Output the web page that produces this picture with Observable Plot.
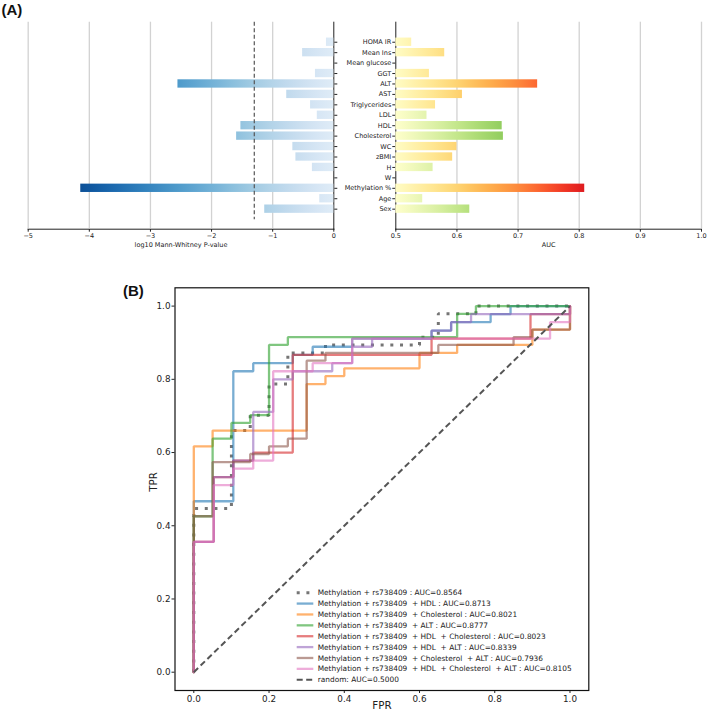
<!DOCTYPE html>
<html><head><meta charset="utf-8">
<script src="https://cdn.jsdelivr.net/npm/d3@7"></script>
<script src="https://cdn.jsdelivr.net/npm/@observablehq/plot@0.6"></script>
<style>
html,body{margin:0;padding:0;background:#fff;}
#root{position:relative;width:709px;height:715px;overflow:hidden;background:#fff;}
#root>svg{position:absolute;}
</style></head>
<body><div id="root"></div>
<script>
// ---------------- Panel A data ----------------
const features = ["HOMA IR","Mean Ins","Mean glucose","GGT","ALT","AST","Triglycerides","LDL","HDL","Cholesterol","WC","zBMI","H","W","Methylation %","Age","Sex"];
const log10P = [-0.12,-0.51,0,-0.30,-2.55,-0.77,-0.38,-0.27,-1.52,-1.59,-0.67,-0.62,-0.35,0,-4.14,-0.23,-1.13];
const aucA = [0.526,0.580,0.5,0.555,0.732,0.609,0.565,0.551,0.674,0.676,0.600,0.593,0.561,0.5,0.809,0.544,0.621];
const aucDirection = ["up","up","up","up","up","up","up","down","down","down","up","up","down","up","up","down","down"];
const pThreshold = Math.log10(0.05);
const leftTicks = [-5,-4,-3,-2,-1,0];
const rightTicks = [0.5,0.6,0.7,0.8,0.9,1.0];

// ---------------- Panel B data ----------------
const rocTicks = [0,0.2,0.4,0.6,0.8,1.0];
const rocModels = [
  "Methylation + rs738409",
  "Methylation + rs738409  + HDL",
  "Methylation + rs738409  + Cholesterol",
  "Methylation + rs738409  + ALT",
  "Methylation + rs738409  + HDL  + Cholesterol",
  "Methylation + rs738409  + HDL  + ALT",
  "Methylation + rs738409  + Cholesterol  + ALT",
  "Methylation + rs738409  + HDL  + Cholesterol  + ALT"
];
const rocAuc = [0.8564,0.8713,0.8021,0.8777,0.8023,0.8339,0.7936,0.8105];
const randomAuc = 0.5;
const rocMeth = [[0,0],[0,0.447],[0.1,0.447],[0.1,0.66],[0.15,0.66],[0.15,0.702],[0.2,0.702],[0.2,0.787],[0.25,0.787],[0.25,0.872],[0.35,0.872],[0.35,0.894],[0.6,0.894],[0.6,0.915],[0.65,0.915],[0.65,0.979],[0.75,0.979],[0.75,1],[1,1]];
const rocHDL = [[0,0],[0,0.467],[0.105,0.467],[0.105,0.822],[0.158,0.822],[0.158,0.844],[0.263,0.844],[0.263,0.867],[0.316,0.867],[0.316,0.889],[0.421,0.889],[0.421,0.911],[0.632,0.911],[0.632,0.933],[0.684,0.933],[0.684,0.956],[0.789,0.956],[0.789,0.978],[0.842,0.978],[0.842,1],[1,1]];
const rocChol = [[0,0],[0,0.617],[0.05,0.617],[0.05,0.66],[0.3,0.66],[0.3,0.787],[0.35,0.787],[0.35,0.809],[0.4,0.809],[0.4,0.83],[0.6,0.83],[0.6,0.872],[0.7,0.872],[0.7,0.894],[0.9,0.894],[0.9,0.936],[1,0.936],[1,1]];
const rocALT = [[0,0],[0,0.426],[0.05,0.426],[0.05,0.638],[0.1,0.638],[0.1,0.681],[0.15,0.681],[0.15,0.702],[0.2,0.702],[0.2,0.894],[0.25,0.894],[0.25,0.915],[0.7,0.915],[0.7,0.979],[0.75,0.979],[0.75,1],[1,1]];
const rocHDLChol = [[0,0],[0,0.356],[0.053,0.356],[0.053,0.533],[0.105,0.533],[0.105,0.578],[0.158,0.578],[0.158,0.6],[0.263,0.6],[0.263,0.867],[0.632,0.867],[0.632,0.911],[0.895,0.911],[0.895,0.978],[1,0.978],[1,1]];
const rocHDLALT = [[0,0],[0,0.356],[0.053,0.356],[0.053,0.533],[0.105,0.533],[0.105,0.578],[0.158,0.578],[0.158,0.711],[0.211,0.711],[0.211,0.8],[0.263,0.8],[0.263,0.822],[0.368,0.822],[0.368,0.844],[0.421,0.844],[0.421,0.889],[0.474,0.889],[0.474,0.911],[0.632,0.911],[0.632,0.933],[0.684,0.933],[0.684,0.956],[0.737,0.956],[0.737,0.978],[1,0.978],[1,1]];
const rocCholALT = [[0,0],[0,0.426],[0.05,0.426],[0.05,0.574],[0.15,0.574],[0.15,0.596],[0.2,0.596],[0.2,0.617],[0.25,0.617],[0.25,0.638],[0.3,0.638],[0.3,0.851],[0.35,0.851],[0.35,0.872],[0.65,0.872],[0.65,0.894],[0.85,0.894],[0.85,0.915],[0.9,0.915],[0.9,0.936],[1,0.936],[1,1]];
const rocAll = [[0,0],[0,0.356],[0.053,0.356],[0.053,0.511],[0.105,0.511],[0.105,0.556],[0.158,0.556],[0.158,0.578],[0.211,0.578],[0.211,0.822],[0.316,0.822],[0.316,0.844],[0.421,0.844],[0.421,0.911],[0.947,0.911],[0.947,0.956],[1,0.956],[1,1]];
const rocRandom = [[0,0],[1,1]];
const rocColors = ["#1f77b4","#ff7f0e","#2ca02c","#d62728","#9467bd","#8c564b","#e377c2"];

// ---------------- helpers ----------------
const FONT = "'DejaVu Sans', sans-serif";
const NS = "http://www.w3.org/2000/svg";
const root = document.getElementById("root");
function addGradient(svg, id, x1, x2, interp, t0, t1) {
  let defs = svg.querySelector("defs");
  if (!defs) { defs = document.createElementNS(NS, "defs"); svg.insertBefore(defs, svg.firstChild); }
  const g = document.createElementNS(NS, "linearGradient");
  g.setAttribute("id", id); g.setAttribute("gradientUnits", "userSpaceOnUse");
  g.setAttribute("x1", x1); g.setAttribute("x2", x2); g.setAttribute("y1", 0); g.setAttribute("y2", 0);
  for (let i = 0; i <= 20; i++) {
    const s = document.createElementNS(NS, "stop");
    s.setAttribute("offset", i / 20);
    s.setAttribute("stop-color", interp(t0 + (t1 - t0) * i / 20));
    g.appendChild(s);
  }
  defs.appendChild(g);
}
function place(el, left, top) { el.style.left = left + "px"; el.style.top = top + "px"; root.appendChild(el); }

// ---------------- Panel A ----------------
const rowsA = features.map((f, i) => ({feature: f, logp: log10P[i], auc: aucA[i], dir: aucDirection[i]}));
const yBand = {domain: features, paddingInner: 0.2, paddingOuter: 1.52, align: 0.5, round: false, label: null};
const styleA = {fontFamily: FONT, fontSize: "6.5px", color: "#222", background: "transparent", overflow: "visible"};

const plotL = Plot.plot({
  width: 340, height: 255, marginLeft: 27.7, marginRight: 6.7, marginTop: 21.7, marginBottom: 26.3,
  style: styleA,
  x: {domain: [-5, 0], ticks: leftTicks, tickFormat: d3.format("d"), tickSize: 3, tickPadding: 1.5, line: true, label: null},
  y: {...yBand, axis: "right", tickSize: 3, tickFormat: () => "", line: true},
  marks: [
    Plot.ruleX(leftTicks.filter(t => t !== 0), {stroke: "#d2d2d2", strokeWidth: 1.3}),
    Plot.barX(rowsA, {y: "feature", x1: () => 0, x2: "logp", fill: "url(#gradBlues)"}),
    Plot.ruleX([pThreshold], {stroke: "#555", strokeWidth: 1.2, strokeDasharray: "4,2.5", insetBottom: 9.4}),
    Plot.text(["log10 Mann-Whitney P-value"], {text: d => d, frameAnchor: "bottom", dy: 17.5, fontSize: 6.5, fill: "#222"})
  ]
});
place(plotL, 0, 0);
{
  const sx = plotL.scale("x");
  addGradient(plotL, "gradBlues", sx.apply(0), sx.apply(d3.min(log10P)), d3.interpolateBlues, 0.12, 0.88);
}

const plotR = Plot.plot({
  width: 374, height: 255, marginLeft: 60.3, marginRight: 8, marginTop: 21.7, marginBottom: 26.3,
  style: styleA,
  x: {domain: [0.5, 1.0], ticks: rightTicks, tickFormat: d3.format(".1f"), tickSize: 3, tickPadding: 1.5, line: true, label: null},
  y: {...yBand, tickSize: 3, tickPadding: 1.5, line: true},
  marks: [
    Plot.ruleX(rightTicks.filter(t => t !== 0.5), {stroke: "#d2d2d2", strokeWidth: 1.3}),
    Plot.barX(rowsA.filter(d => d.dir === "up"), {y: "feature", x1: () => 0.5, x2: "auc", fill: "url(#gradOrange)"}),
    Plot.barX(rowsA.filter(d => d.dir === "down"), {y: "feature", x1: () => 0.5, x2: "auc", fill: "url(#gradGreen)"}),
    Plot.text(["AUC"], {text: d => d, frameAnchor: "bottom", dy: 17.5, fontSize: 6.5, fill: "#222"})
  ]
});
place(plotR, 335, 0);
{
  const sx = plotR.scale("x");
  addGradient(plotR, "gradOrange", sx.apply(0.5), sx.apply(d3.max(aucA)), d3.interpolateYlOrRd, 0.02, 0.76);
  const greenInterp = d3.interpolateRgbBasis(["#ffffcc", "#d9f0a3", "#a6d96a", "#78c050"]);
  const gmax = d3.max(rowsA.filter(d => d.dir === "down"), d => d.auc);
  addGradient(plotR, "gradGreen", sx.apply(0.5), sx.apply(gmax), greenInterp, 0, 0.82);
}

// ---------------- Panel B ----------------
const xy = {x: d => d[0], y: d => d[1]};
const rocCurves = [rocHDL, rocChol, rocALT, rocHDLChol, rocHDLALT, rocCholALT, rocAll];
const plotB = Plot.plot({
  width: 709, height: 455, marginLeft: 174.5, marginRight: 120.7, marginTop: 27.3, marginBottom: 25,
  style: {fontFamily: FONT, fontSize: "8.8px", color: "#222", background: "transparent", overflow: "visible"},
  x: {domain: [-0.05, 1.05], ticks: rocTicks, tickFormat: d3.format(".1f"), tickSize: 3, tickPadding: 1.75, label: null},
  y: {domain: [-0.05, 1.05], ticks: rocTicks, tickFormat: d3.format(".1f"), tickSize: 3, tickPadding: 1.5, label: null},
  marks: [
    Plot.line(rocMeth, {...xy, stroke: "#666", strokeWidth: 3, strokeDasharray: "3,6.7", strokeLinecap: "butt", strokeLinejoin: "miter", strokeOpacity: 0.9}),
    ...rocCurves.map((pts, i) => Plot.line(pts, {...xy, stroke: rocColors[i], strokeWidth: 2.3, strokeOpacity: 0.6, strokeLinejoin: "miter"})),
    Plot.line(rocRandom, {...xy, stroke: "#555", strokeWidth: 2, strokeDasharray: "6,3.5", strokeLinecap: "butt"}),
    Plot.frame({stroke: "#111", strokeWidth: 1.2}),
    Plot.text(["FPR"], {text: d => d, frameAnchor: "bottom", dy: 18, fontSize: 10.3, fill: "#222"}),
    Plot.text(["TPR"], {text: d => d, frameAnchor: "left", dx: -21, dy: 2.6, rotate: -90, fontSize: 10.3, fill: "#222"})
  ]
});
place(plotB, 0, 260);

// ---------------- overlay: panel letters + legend ----------------
const ov = d3.create("svg").attr("width", 709).attr("height", 715).style("left", "0px").style("top", "0px")
  .style("pointer-events", "none");
ov.append("text").attr("x", 1.5).attr("y", 14.5).text("(A)")
  .attr("font-family", "'Liberation Sans', Arial, sans-serif").attr("font-weight", "bold").attr("font-size", 15).attr("fill", "#111");
ov.append("text").attr("x", 123).attr("y", 296).text("(B)")
  .attr("font-family", "'Liberation Sans', Arial, sans-serif").attr("font-weight", "bold").attr("font-size", 15).attr("fill", "#111");

const legendItems = [
  {label: `${rocModels[0]} : AUC=${rocAuc[0].toFixed(4)}`, stroke: "#666", width: 3, dash: "3,6.7", opacity: 0.9},
  ...rocModels.slice(1).map((m, i) => ({label: `${m} : AUC=${rocAuc[i + 1].toFixed(4)}`, stroke: rocColors[i], width: 2.3, dash: null, opacity: 0.6})),
  {label: `random: AUC=${randomAuc.toFixed(4)}`, stroke: "#555", width: 2, dash: "6,3.5", opacity: 1}
];
const lg = ov.append("g");
legendItems.forEach((it, i) => {
  const y = 592.7 + i * 10.88;
  lg.append("line").attr("x1", 296.7).attr("x2", 313.3).attr("y1", y).attr("y2", y)
    .attr("stroke", it.stroke).attr("stroke-width", it.width).attr("stroke-opacity", it.opacity)
    .attr("stroke-dasharray", it.dash).attr("stroke-linecap", "butt");
  lg.append("text").attr("x", 317.7).attr("y", y).attr("dy", "0.35em").text(it.label)
    .attr("font-family", FONT).attr("font-size", 7.4).attr("fill", "#222").style("white-space", "pre");
});
place(ov.node(), 0, 0);
</script>
</body></html>
